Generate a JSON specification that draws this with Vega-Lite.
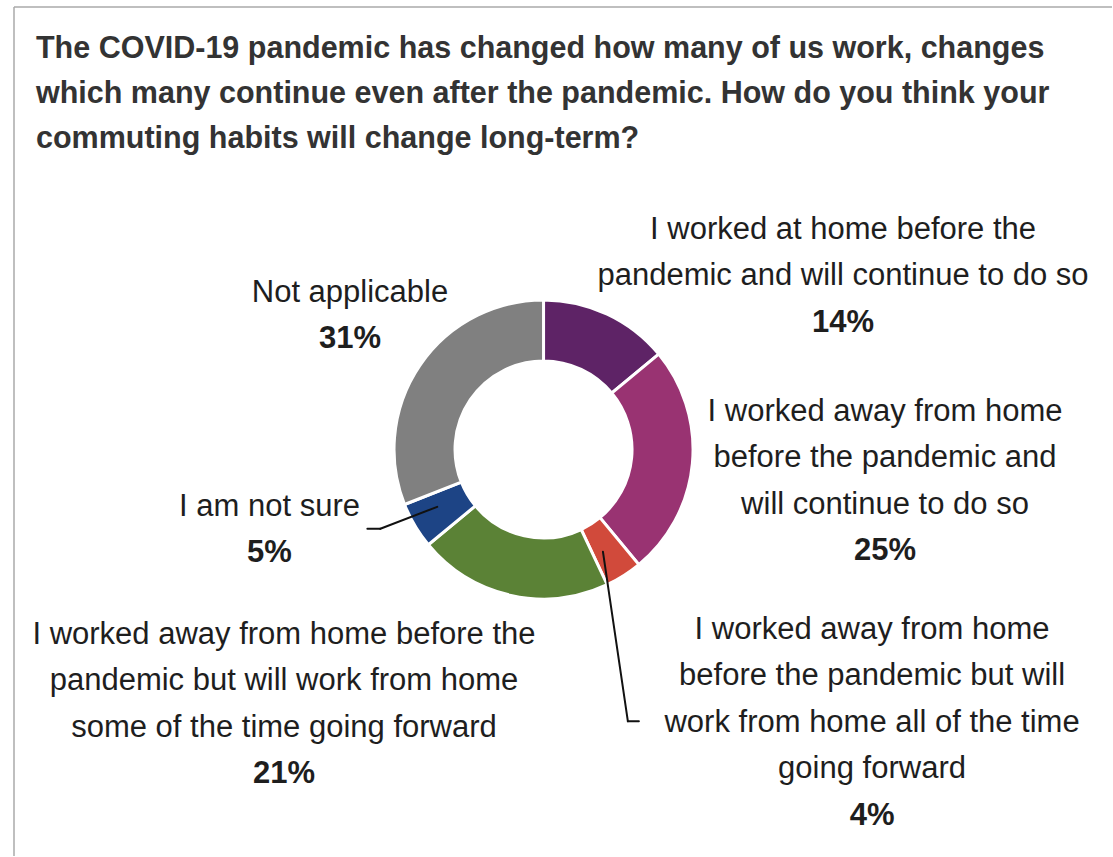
{
  "$schema": "https://vega.github.io/schema/vega-lite/v6.json",
  "width": 1113,
  "height": 857,
  "autosize": {"type": "fit", "contains": "padding"},
  "padding": {"left": 13, "top": 6, "right": 0, "bottom": 0},
  "background": "white",
  "config": {"view": {"stroke": null}},
  "data": {
    "values": [
      {"order": 1, "answer": "I worked at home before the\npandemic and will continue to do so", "share": 0.14},
      {"order": 2, "answer": "I worked away from home\nbefore the pandemic and\nwill continue to do so", "share": 0.25},
      {"order": 3, "answer": "I worked away from home\nbefore the pandemic but will\nwork from home all of the time\ngoing forward", "share": 0.04},
      {"order": 4, "answer": "I worked away from home before the\npandemic but will work from home\nsome of the time going forward", "share": 0.21},
      {"order": 5, "answer": "I am not sure", "share": 0.05},
      {"order": 6, "answer": "Not applicable", "share": 0.31}
    ]
  },
  "encoding": {
    "x": {"datum": 0, "type": "quantitative", "scale": {"domain": [-530.5, 569.5], "nice": false, "zero": false}, "axis": null},
    "y": {"datum": 0, "type": "quantitative", "scale": {"domain": [-407.5, 443.5], "nice": false, "zero": false}, "axis": null}
  },
  "layer": [
    {
      "mark": {"type": "arc", "innerRadius": 88.5, "outerRadius": 149.5, "stroke": "white", "strokeWidth": 3},
      "encoding": {
        "theta": {"field": "share", "type": "quantitative", "stack": true},
        "order": {"field": "order"},
        "color": {
          "field": "answer",
          "type": "nominal",
          "sort": {"field": "order"},
          "scale": {"range": ["#5E2366", "#993372", "#D14A3B", "#5B8236", "#1D4485", "#808080"]},
          "legend": null
        }
      }
    },
    {
      "data": {"values": [{}]},
      "mark": {
        "type": "text",
        "text": [
          "The COVID-19 pandemic has changed how many of us work, changes",
          "which many continue even after the pandemic. How do you think your",
          "commuting habits will change long-term?"
        ],
        "align": "left",
        "baseline": "alphabetic",
        "font": "Liberation Sans",
        "fontSize": 30.5,
        "fontWeight": "bold",
        "lineHeight": 45,
        "color": "#333333"
      },
      "encoding": {
        "x": {"datum": -508.5, "type": "quantitative"},
        "y": {"datum": 392.8, "type": "quantitative"}
      }
    },
    {
      "mark": {"type": "text", "radius": 190, "align": "center", "baseline": "alphabetic", "lineBreak": "\n", "lineHeight": 46.5, "font": "Liberation Sans", "fontSize": 31, "color": "#1e1e1e", "dx": 218.6, "dy": -38.6},
      "encoding": {
        "theta": {"field": "share", "type": "quantitative", "stack": true},
        "order": {"field": "order"},
        "text": {"condition": {"test": "datum.order === 1", "field": "answer", "type": "nominal"}, "value": ""}
      }
    },
    {
      "mark": {"type": "text", "radius": 190, "align": "center", "baseline": "alphabetic", "font": "Liberation Sans", "fontSize": 31, "fontWeight": "bold", "color": "#1e1e1e", "dx": 218.6, "dy": 54.4},
      "encoding": {
        "theta": {"field": "share", "type": "quantitative", "stack": true},
        "order": {"field": "order"},
        "text": {"condition": {"test": "datum.order === 1", "field": "share", "type": "quantitative", "format": ".0%"}, "value": ""}
      }
    },
    {
      "mark": {"type": "text", "radius": 190, "align": "center", "baseline": "alphabetic", "lineBreak": "\n", "lineHeight": 46.5, "font": "Liberation Sans", "fontSize": 31, "color": "#1e1e1e", "dx": 152.3, "dy": -46.4},
      "encoding": {
        "theta": {"field": "share", "type": "quantitative", "stack": true},
        "order": {"field": "order"},
        "text": {"condition": {"test": "datum.order === 2", "field": "answer", "type": "nominal"}, "value": ""}
      }
    },
    {
      "mark": {"type": "text", "radius": 190, "align": "center", "baseline": "alphabetic", "font": "Liberation Sans", "fontSize": 31, "fontWeight": "bold", "color": "#1e1e1e", "dx": 152.3, "dy": 93.1},
      "encoding": {
        "theta": {"field": "share", "type": "quantitative", "stack": true},
        "order": {"field": "order"},
        "text": {"condition": {"test": "datum.order === 2", "field": "share", "type": "quantitative", "format": ".0%"}, "value": ""}
      }
    },
    {
      "mark": {"type": "text", "radius": 190, "align": "center", "baseline": "alphabetic", "lineBreak": "\n", "lineHeight": 46.5, "font": "Liberation Sans", "fontSize": 31, "color": "#1e1e1e", "dx": 226.7, "dy": 29.1},
      "encoding": {
        "theta": {"field": "share", "type": "quantitative", "stack": true},
        "order": {"field": "order"},
        "text": {"condition": {"test": "datum.order === 3", "field": "answer", "type": "nominal"}, "value": ""}
      }
    },
    {
      "mark": {"type": "text", "radius": 190, "align": "center", "baseline": "alphabetic", "font": "Liberation Sans", "fontSize": 31, "fontWeight": "bold", "color": "#1e1e1e", "dx": 226.7, "dy": 215.1},
      "encoding": {
        "theta": {"field": "share", "type": "quantitative", "stack": true},
        "order": {"field": "order"},
        "text": {"condition": {"test": "datum.order === 3", "field": "share", "type": "quantitative", "format": ".0%"}, "value": ""}
      }
    },
    {
      "mark": {"type": "text", "radius": 190, "align": "center", "baseline": "alphabetic", "lineBreak": "\n", "lineHeight": 46.5, "font": "Liberation Sans", "fontSize": 31, "color": "#1e1e1e", "dx": -218.1, "dy": 9.1},
      "encoding": {
        "theta": {"field": "share", "type": "quantitative", "stack": true},
        "order": {"field": "order"},
        "text": {"condition": {"test": "datum.order === 4", "field": "answer", "type": "nominal"}, "value": ""}
      }
    },
    {
      "mark": {"type": "text", "radius": 190, "align": "center", "baseline": "alphabetic", "font": "Liberation Sans", "fontSize": 31, "fontWeight": "bold", "color": "#1e1e1e", "dx": -218.1, "dy": 148.6},
      "encoding": {
        "theta": {"field": "share", "type": "quantitative", "stack": true},
        "order": {"field": "order"},
        "text": {"condition": {"test": "datum.order === 4", "field": "share", "type": "quantitative", "format": ".0%"}, "value": ""}
      }
    },
    {
      "mark": {"type": "text", "radius": 190, "align": "center", "baseline": "alphabetic", "lineBreak": "\n", "lineHeight": 46.5, "font": "Liberation Sans", "fontSize": 31, "color": "#1e1e1e", "dx": -110.5, "dy": -30.2},
      "encoding": {
        "theta": {"field": "share", "type": "quantitative", "stack": true},
        "order": {"field": "order"},
        "text": {"condition": {"test": "datum.order === 5", "field": "answer", "type": "nominal"}, "value": ""}
      }
    },
    {
      "mark": {"type": "text", "radius": 190, "align": "center", "baseline": "alphabetic", "font": "Liberation Sans", "fontSize": 31, "fontWeight": "bold", "color": "#1e1e1e", "dx": -110.5, "dy": 16.3},
      "encoding": {
        "theta": {"field": "share", "type": "quantitative", "stack": true},
        "order": {"field": "order"},
        "text": {"condition": {"test": "datum.order === 5", "field": "share", "type": "quantitative", "format": ".0%"}, "value": ""}
      }
    },
    {
      "mark": {"type": "text", "radius": 190, "align": "center", "baseline": "alphabetic", "lineBreak": "\n", "lineHeight": 46.5, "font": "Liberation Sans", "fontSize": 31, "color": "#1e1e1e", "dx": -36.4, "dy": -40.7},
      "encoding": {
        "theta": {"field": "share", "type": "quantitative", "stack": true},
        "order": {"field": "order"},
        "text": {"condition": {"test": "datum.order === 6", "field": "answer", "type": "nominal"}, "value": ""}
      }
    },
    {
      "mark": {"type": "text", "radius": 190, "align": "center", "baseline": "alphabetic", "font": "Liberation Sans", "fontSize": 31, "fontWeight": "bold", "color": "#1e1e1e", "dx": -36.4, "dy": 5.8},
      "encoding": {
        "theta": {"field": "share", "type": "quantitative", "stack": true},
        "order": {"field": "order"},
        "text": {"condition": {"test": "datum.order === 6", "field": "share", "type": "quantitative", "format": ".0%"}, "value": ""}
      }
    },
    {
      "data": {"values": [{}]},
      "mark": {"type": "rule", "color": "#111111", "strokeWidth": 2, "strokeCap": "round"},
      "encoding": {
        "x": {"datum": -176.5, "type": "quantitative"},
        "y": {"datum": -79.5, "type": "quantitative"},
        "x2": {"datum": -163.5},
        "y2": {"datum": -79.5}
      }
    },
    {
      "data": {"values": [{}]},
      "mark": {"type": "rule", "color": "#111111", "strokeWidth": 2, "strokeCap": "round"},
      "encoding": {
        "x": {"datum": -163.5, "type": "quantitative"},
        "y": {"datum": -79.5, "type": "quantitative"},
        "x2": {"datum": -106.5},
        "y2": {"datum": -57.5}
      }
    },
    {
      "data": {"values": [{}]},
      "mark": {"type": "rule", "color": "#111111", "strokeWidth": 2, "strokeCap": "round"},
      "encoding": {
        "x": {"datum": 59.5, "type": "quantitative"},
        "y": {"datum": -102.5, "type": "quantitative"},
        "x2": {"datum": 84.5},
        "y2": {"datum": -272.5}
      }
    },
    {
      "data": {"values": [{}]},
      "mark": {"type": "rule", "color": "#111111", "strokeWidth": 2, "strokeCap": "round"},
      "encoding": {
        "x": {"datum": 84.5, "type": "quantitative"},
        "y": {"datum": -272.5, "type": "quantitative"},
        "x2": {"datum": 95.5},
        "y2": {"datum": -272.5}
      }
    },
    {
      "data": {"values": [{}]},
      "mark": {"type": "rule", "color": "#aaaaaa", "strokeWidth": 1.5},
      "encoding": {
        "x": {"datum": -530.5, "type": "quantitative"},
        "y": {"datum": -407.5, "type": "quantitative"},
        "y2": {"datum": 443.5}
      }
    },
    {
      "data": {"values": [{}]},
      "mark": {"type": "rule", "color": "#aaaaaa", "strokeWidth": 1.5},
      "encoding": {
        "x": {"datum": -530.5, "type": "quantitative"},
        "x2": {"datum": 569.5},
        "y": {"datum": 443.5, "type": "quantitative"}
      }
    }
  ]
}
